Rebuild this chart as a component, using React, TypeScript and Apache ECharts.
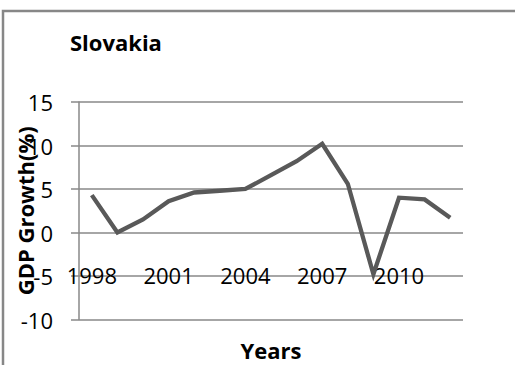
import React, { useEffect, useRef } from "react";
import * as echarts from "echarts";

// Slovakia: annual GDP growth (%)
const years = [
  "1998", "1999", "2000", "2001", "2002", "2003", "2004", "2005",
  "2006", "2007", "2008", "2009", "2010", "2011", "2012",
];
const gdpGrowth = [4.3, 0.0, 1.5, 3.6, 4.6, 4.8, 5.0, 6.6, 8.2, 10.2, 5.6, -4.8, 4.0, 3.8, 1.7];

const yMin = -10;
const yMax = 15;
const yStep = 5;

const FONT = '"Open Sans", "Liberation Sans", sans-serif';
const GRID_GRAY = "#898989";

export default function App() {
  const ref = useRef<HTMLDivElement>(null);

  useEffect(() => {
    if (!ref.current) return;
    const chart = echarts.init(ref.current, null, { renderer: "svg" });
    chart.setOption({
      animation: false,
      backgroundColor: "#ffffff",
      graphic: [
        {
          type: "rect",
          shape: { x: 3, y: 11, width: 700, height: 500 },
          style: { fill: "none", stroke: "#878787", lineWidth: 2.5 },
          silent: true,
        },
        {
          type: "text",
          left: 70,
          top: 31,
          style: {
            text: "Slovakia",
            font: `bold 22px ${FONT}`,
            fill: "#000000",
          },
        },
      ],
      grid: {
        left: 79,
        right: 52,
        top: 102,
        bottom: 45.5,
        containLabel: false,
        outerBoundsMode: "none",
      },
      xAxis: {
        type: "category",
        data: years,
        boundaryGap: true,
        axisLine: { show: false, onZero: false },
        axisTick: { show: false },
        splitLine: { show: false },
        axisLabel: {
          interval: 2,
          margin: -45,
          verticalAlign: "middle",
          fontSize: 22,
          fontFamily: FONT,
          color: "#000000",
        },
        name: "Years",
        nameLocation: "middle",
        nameGap: 19,
        nameMoveOverlap: false,
        nameTextStyle: {
          fontSize: 22,
          fontWeight: "bold",
          fontFamily: FONT,
          color: "#000000",
        },
      },
      yAxis: {
        type: "value",
        min: yMin,
        max: yMax,
        interval: yStep,
        axisLine: { show: true, lineStyle: { color: GRID_GRAY, width: 1.5 } },
        axisTick: { show: true, length: 8, lineStyle: { color: GRID_GRAY, width: 1.5 } },
        splitLine: { show: true, lineStyle: { color: GRID_GRAY, width: 1.5 } },
        axisLabel: {
          margin: 26,
          fontSize: 22,
          fontFamily: FONT,
          color: "#000000",
        },
        name: "GDP Growth(%)",
        nameLocation: "middle",
        nameGap: 43,
        nameMoveOverlap: false,
        nameTextStyle: {
          fontSize: 22,
          fontWeight: "bold",
          fontFamily: FONT,
          color: "#000000",
        },
      },
      series: [
        {
          type: "line",
          data: gdpGrowth,
          showSymbol: false,
          symbol: "none",
          lineStyle: { color: "#595959", width: 4.3, join: "miter" },
          z: 3,
        },
      ],
    });
    return () => chart.dispose();
  }, []);

  return (
    <div
      ref={ref}
      style={{ position: "absolute", left: 0, top: 0, width: 515, height: 365 }}
    />
  );
}
